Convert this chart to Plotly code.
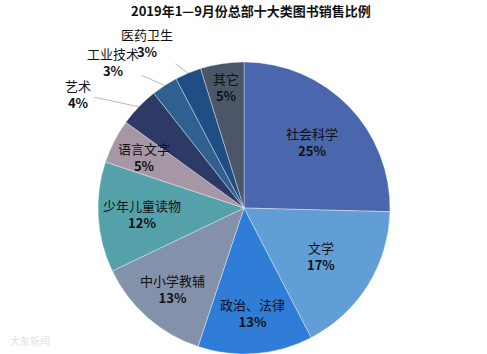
import math
import plotly.graph_objects as go

title = "2019年1—9月份总部十大类图书销售比例"
categories = ["社会科学", "文学", "政治、法律", "中小学教辅", "少年儿童读物",
              "语言文字", "艺术", "工业技术", "医药卫生", "其它"]
values = [25.4, 17.0, 12.7, 12.8, 12.2, 4.9, 4.4, 2.9, 2.9, 4.8]
colors = ["#4a66ac", "#629ed6", "#2f7dd6", "#8391ab", "#54a1aa",
          "#a797a6", "#2c3a65", "#2f6090", "#1f4e85", "#4b5669"]

W, H = 487, 354
CX, CY, R = 244, 208, 146  # pie center / radius in pixels

# label placement styles: inside fraction of radius, or outside offset (px)
inside_frac = {"社会科学": 0.647, "文学": 0.62, "政治、法律": 0.72, "中小学教辅": 0.74,
               "少年儿童读物": 0.70, "语言文字": 0.77, "其它": 0.835}
outside_off = {"艺术": (-61, -13), "工业技术": (-52, -23), "医药卫生": (-41, -30)}

fig = go.Figure(go.Pie(
    labels=categories, values=values, sort=False, direction="clockwise", rotation=0,
    marker=dict(colors=colors, line=dict(color="rgba(255,255,255,0.6)", width=0.6)),
    textinfo="none", hoverinfo="label+percent",
    domain=dict(x=[(CX - R) / W, (CX + R) / W], y=[1 - (CY + R) / H, 1 - (CY - R) / H]),
    showlegend=False,
))

total = sum(values)
cum = 0
ann = []
font = dict(family="Noto Sans CJK SC", size=13, color="#111")
for name, v in zip(categories, values):
    mid = (cum + v / 2) / total * 2 * math.pi
    cum += v
    pct = round(v / total * 100)
    txt = f"{name}<br><b>{pct}%</b>"
    if name in inside_frac:
        f = inside_frac[name]
        px = CX + R * f * math.sin(mid)
        py = CY - R * f * math.cos(mid)
        ann.append(dict(x=px / W, y=1 - py / H, xref="paper", yref="paper", text=txt,
                        xanchor="center", yanchor="middle",
                        showarrow=False, font=font, align="center"))
    else:
        px = CX + R * math.sin(mid)
        py = CY - R * math.cos(mid)
        ox, oy = outside_off[name]
        ann.append(dict(x=px / W, y=1 - py / H, xref="paper", yref="paper", text=txt,
                        showarrow=True, arrowhead=0, arrowwidth=0.8, arrowcolor="#a6a6a6",
                        ax=ox, ay=oy, font=font, align="center", standoff=0, startstandoff=2))

ann.append(dict(x=251 / W, y=1 - 11 / H, xref="paper", yref="paper", text=f"<b>{title}</b>",
                xanchor="center", yanchor="middle",
                showarrow=False, font=dict(family="Noto Sans CJK SC", size=13, color="#111")))
ann.append(dict(x=8 / W, y=1 - 340 / H, xref="paper", yref="paper", text="大象新闻",
                xanchor="left", yanchor="middle", showarrow=False,
                font=dict(family="Noto Sans CJK SC", size=10, color="#e2e2e2")))

fig.update_layout(width=W, height=H, margin=dict(l=0, r=0, t=0, b=0),
                  paper_bgcolor="white", plot_bgcolor="white", annotations=ann)
fig.write_html("out.html")
